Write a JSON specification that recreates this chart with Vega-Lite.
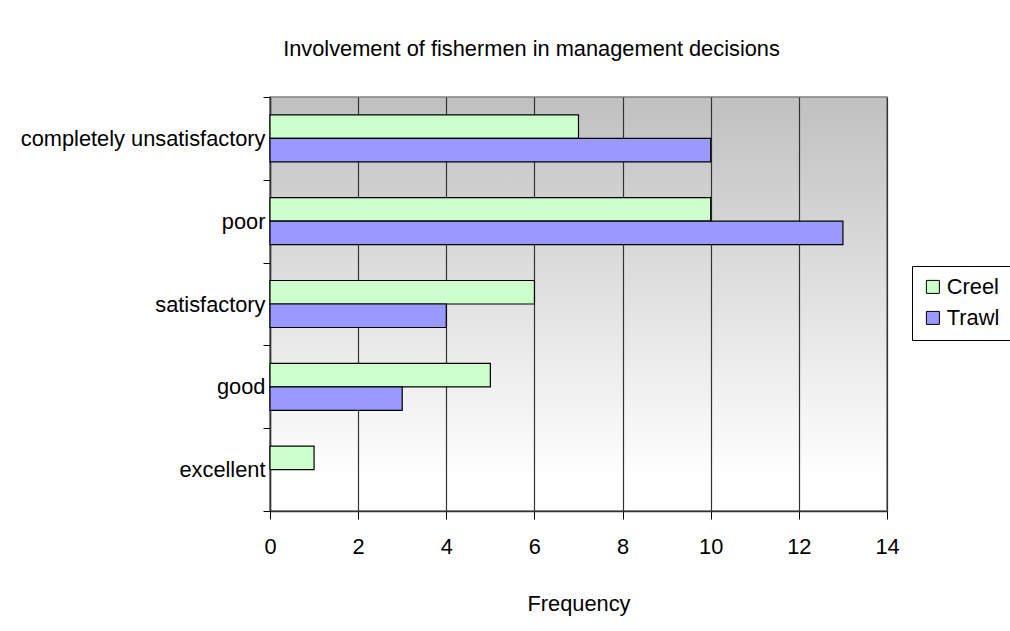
{
  "$schema": "https://vega.github.io/schema/vega-lite/v6.json",
  "width": 617,
  "height": 414,
  "autosize": {"type": "none"},
  "padding": {"left": 270, "top": 97, "right": 123, "bottom": 120},
  "background": "white",
  "title": {
    "text": "Involvement of fishermen in management decisions",
    "anchor": "middle",
    "dx": -47,
    "offset": 26,
    "font": "Liberation Sans",
    "fontSize": 21.8,
    "fontWeight": "normal",
    "color": "#000000"
  },
  "data": {
    "values": [
      {"rating": "completely unsatisfactory", "gear": "Creel", "frequency": 7},
      {"rating": "completely unsatisfactory", "gear": "Trawl", "frequency": 10},
      {"rating": "poor", "gear": "Creel", "frequency": 10},
      {"rating": "poor", "gear": "Trawl", "frequency": 13},
      {"rating": "satisfactory", "gear": "Creel", "frequency": 6},
      {"rating": "satisfactory", "gear": "Trawl", "frequency": 4},
      {"rating": "good", "gear": "Creel", "frequency": 5},
      {"rating": "good", "gear": "Trawl", "frequency": 3},
      {"rating": "excellent", "gear": "Creel", "frequency": 1}
    ]
  },
  "mark": {"type": "bar", "stroke": "#000000", "strokeWidth": 1.2},
  "encoding": {
    "y": {
      "field": "rating",
      "type": "nominal",
      "sort": ["completely unsatisfactory", "poor", "satisfactory", "good", "excellent"],
      "scale": {"paddingInner": 0, "paddingOuter": 0},
      "axis": {
        "title": null,
        "tickBand": "extent",
        "tickSize": 7,
        "tickColor": "#000000",
        "domainColor": "#333333",
        "domainWidth": 1.5,
        "labelPadding": -2,
        "labelFont": "Liberation Sans",
        "labelFontSize": 21.8,
        "labelColor": "#000000",
        "labelLimit": 400
      }
    },
    "yOffset": {
      "field": "gear",
      "sort": ["Creel", "Trawl"],
      "scale": {"paddingInner": 0, "paddingOuter": 0.76}
    },
    "x": {
      "field": "frequency",
      "type": "quantitative",
      "scale": {"domain": [0, 14]},
      "axis": {
        "values": [0, 2, 4, 6, 8, 10, 12, 14],
        "title": "Frequency",
        "grid": true,
        "gridColor": "#333333",
        "gridWidth": 1.2,
        "tickSize": 8,
        "tickColor": "#000000",
        "domainColor": "#333333",
        "domainWidth": 1.5,
        "labelFlush": false,
        "labelPadding": 17,
        "labelFont": "Liberation Sans",
        "labelFontSize": 21.8,
        "labelColor": "#000000",
        "titlePadding": 36,
        "titleFont": "Liberation Sans",
        "titleFontSize": 21.8,
        "titleFontWeight": "normal",
        "titleColor": "#000000"
      }
    },
    "color": {
      "field": "gear",
      "type": "nominal",
      "scale": {"domain": ["Creel", "Trawl"], "range": ["#ccffcc", "#9999ff"]},
      "legend": {
        "title": null,
        "orient": "none",
        "legendX": 642,
        "legendY": 169,
        "strokeColor": "#000000",
        "fillColor": "#ffffff",
        "padding": 10,
        "symbolType": "square",
        "symbolSize": 169,
        "symbolStrokeColor": "#000000",
        "symbolStrokeWidth": 1,
        "labelFont": "Liberation Sans",
        "labelFontSize": 21.8,
        "labelColor": "#000000",
        "labelOffset": 3,
        "rowPadding": 8
      }
    }
  },
  "config": {
    "view": {
      "stroke": "#808080",
      "strokeWidth": 1.5,
      "fill": {
        "gradient": "linear",
        "x1": 0, "y1": 0, "x2": 0, "y2": 1,
        "stops": [
          {"offset": 0, "color": "#c0c0c0"},
          {"offset": 0.92, "color": "#ffffff"}
        ]
      }
    }
  }
}
